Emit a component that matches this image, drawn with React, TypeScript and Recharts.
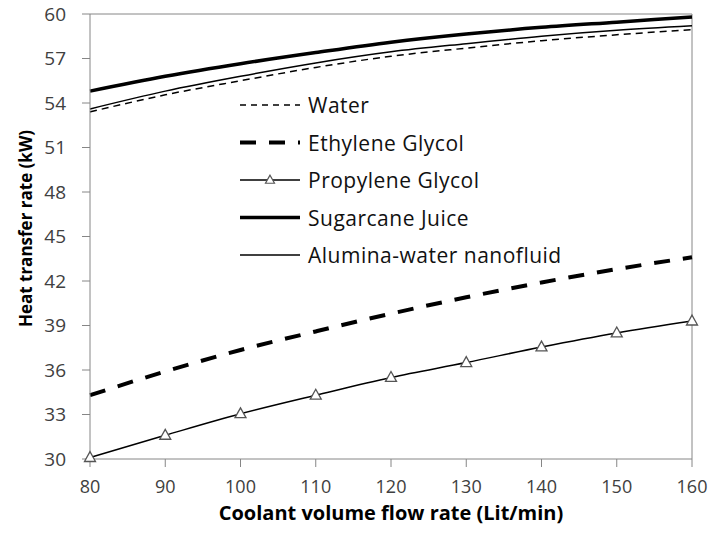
import { LineChart, Line, XAxis, YAxis, Legend, ReferenceLine, Label } from "recharts";

const flowRates = [80, 90, 100, 110, 120, 130, 140, 150, 160];
const water = [53.4, 54.55, 55.5, 56.4, 57.15, 57.7, 58.2, 58.6, 58.95];
const ethyleneGlycol = [34.3, 35.9, 37.35, 38.6, 39.8, 40.9, 41.9, 42.8, 43.6];
const propyleneGlycol = [30.1, 31.6, 33.05, 34.3, 35.5, 36.5, 37.55, 38.5, 39.3];
const sugarcaneJuice = [54.8, 55.8, 56.65, 57.4, 58.1, 58.65, 59.1, 59.45, 59.8];
const aluminaWater = [53.6, 54.8, 55.8, 56.7, 57.45, 58.0, 58.5, 58.9, 59.2];
const yTicks = [30, 33, 36, 39, 42, 45, 48, 51, 54, 57, 60];

const data = flowRates.map((flow, i) => ({
  flow,
  water: water[i],
  ethylene: ethyleneGlycol[i],
  propylene: propyleneGlycol[i],
  sugarcane: sugarcaneJuice[i],
  alumina: aluminaWater[i],
}));

const FONT = "'Open Sans', sans-serif";
const AXIS = "#868686";

const legendRows = [
  { name: "Water", width: 1.5, dash: "6 5", marker: false },
  { name: "Ethylene Glycol", width: 4, dash: "16 13", marker: false },
  { name: "Propylene Glycol", width: 1.5, dash: undefined, marker: true },
  { name: "Sugarcane Juice", width: 3.5, dash: undefined, marker: false },
  { name: "Alumina-water nanofluid", width: 1.5, dash: undefined, marker: false },
];

function triangle(cx: number, cy: number, w: number) {
  const h = w * 0.9;
  return `${cx},${cy - h * 0.6} ${cx - w / 2},${cy + h * 0.4} ${cx + w / 2},${cy + h * 0.4}`;
}

// eslint-disable-next-line @typescript-eslint/no-explicit-any
const TriangleDot = (props: any) => {
  const { cx, cy, index } = props;
  if (cx == null || cy == null) return null;
  return <polygon key={`tri-${index}`} points={triangle(cx, cy, 11)} fill="#fff" stroke="#555" strokeWidth={1.3} />;
};

// legend sits inside the plot; zero-size wrapper so it doesn't steal plot space
function LegendBox() {
  return (
    <svg width={360} height={190} style={{ display: "block", overflow: "visible" }}>
      {legendRows.map((r, i) => {
        const y = 19 + i * 37.5;
        return (
          <g key={r.name}>
            <line x1={0} x2={60} y1={y} y2={y} stroke="#000" strokeWidth={r.width} strokeDasharray={r.dash} />
            {r.marker && <polygon points={triangle(30, y, 9)} fill="#fff" stroke="#555" strokeWidth={1.2} />}
            <text x={68} y={y} dominantBaseline="central" fontFamily={FONT} fontSize={21} letterSpacing={0.5} fill="#111">
              {r.name}
            </text>
          </g>
        );
      })}
    </svg>
  );
}

// eslint-disable-next-line @typescript-eslint/no-explicit-any
const YTitle = (props: any) => {
  const { viewBox } = props;
  const cy = viewBox.y + viewBox.height / 2 - 8;
  return (
    <text x={25} y={cy} transform={`rotate(-90 25 ${cy})`} textAnchor="middle" dominantBaseline="central"
      fontFamily={FONT} fontWeight={700} fontSize={17} fill="#000">
      Heat transfer rate (kW)
    </text>
  );
};

export default function App() {
  return (
    <div style={{ position: "absolute", left: 0, top: 0, width: 714, height: 540, background: "#fff" }}>
      <LineChart width={714} height={540} data={data} margin={{ top: 14, right: 22, bottom: 0, left: 0 }}>
        <XAxis dataKey="flow" type="number" domain={[80, 160]} ticks={flowRates} height={81}
          axisLine={{ stroke: AXIS }} tickLine={{ stroke: AXIS }} tickSize={8} tickMargin={13}
          tick={{ fontFamily: FONT, fontSize: 18, fill: "#404040" }}>
          <Label value="Coolant volume flow rate (Lit/min)" position="insideBottom" offset={20}
            style={{ fontFamily: FONT, fontWeight: 700, fontSize: 20, fill: "#000" }} />
        </XAxis>
        <YAxis type="number" domain={[30, 60]} ticks={yTicks} width={90} interval={0}
          axisLine={{ stroke: AXIS }} tickLine={{ stroke: AXIS }} tickSize={8} tickMargin={16}
          tick={{ fontFamily: FONT, fontSize: 19, fill: "#404040" }}>
          <Label content={<YTitle />} />
        </YAxis>
        <ReferenceLine y={60} stroke={AXIS} />
        <ReferenceLine x={160} stroke={AXIS} />
        <Line dataKey="ethylene" type="monotone" stroke="#000" strokeWidth={4} strokeDasharray="16 13" dot={false} isAnimationActive={false} />
        <Line dataKey="propylene" type="monotone" stroke="#000" strokeWidth={1.5} dot={TriangleDot} isAnimationActive={false} />
        <Line dataKey="water" type="monotone" stroke="#000" strokeWidth={1.5} strokeDasharray="7 5" dot={false} isAnimationActive={false} />
        <Line dataKey="alumina" type="monotone" stroke="#000" strokeWidth={1.5} dot={false} isAnimationActive={false} />
        <Line dataKey="sugarcane" type="monotone" stroke="#000" strokeWidth={3.5} dot={false} isAnimationActive={false} />
        <Legend content={() => <LegendBox />}
          wrapperStyle={{ left: 240, top: 86, width: 0, height: 0, bottom: "auto", overflow: "visible" }} />
      </LineChart>
    </div>
  );
}
